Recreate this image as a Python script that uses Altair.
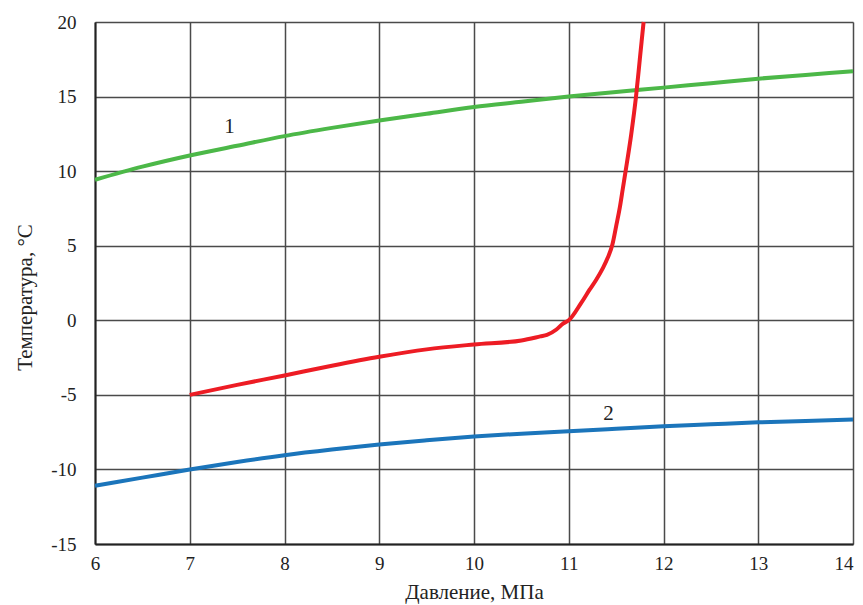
import altair as alt
import pandas as pd

# Curve 1 (green)
x1 = [6, 6.5, 7, 7.5, 8, 8.5, 9, 9.5, 10, 10.5, 11, 11.5, 12, 12.5, 13, 13.5, 14]
y1 = [9.42, 10.3, 11.05, 11.7, 12.35, 12.9, 13.4, 13.85, 14.3, 14.65, 15.0, 15.3, 15.6, 15.9, 16.2, 16.45, 16.7]

# Curve 2 (blue)
x2 = [6, 6.5, 7, 7.5, 8, 8.5, 9, 9.5, 10, 10.5, 11, 11.5, 12, 12.5, 13, 13.5, 14]
y2 = [-11.1, -10.55, -10.0, -9.5, -9.05, -8.67, -8.33, -8.05, -7.8, -7.6, -7.44, -7.27, -7.1, -6.97, -6.84, -6.75, -6.66]

# Red curve
x3 = [7, 7.5, 8, 8.5, 9, 9.5, 10, 10.5, 10.7, 10.77, 10.87, 10.94, 11.0, 11.13, 11.22, 11.29, 11.36, 11.41, 11.46, 11.5, 11.54, 11.57, 11.6, 11.66, 11.71, 11.75, 11.79]
y3 = [-5.0, -4.33, -3.7, -3.05, -2.45, -1.95, -1.62, -1.35, -1.08, -0.98, -0.62, -0.22, 0.0, 1.15, 2.05, 2.72, 3.5, 4.17, 5.06, 6.3, 7.6, 8.8, 10.0, 12.5, 15.0, 17.5, 20.0]

label_text = ["1", "2"]
label_x = [7.42, 11.42]
label_y = [12.97, -6.26]

rows = []
for s, xs, ys in (("1", x1, y1), ("2", x2, y2), ("3", x3, y3)):
    for i, (a, b) in enumerate(zip(xs, ys)):
        rows.append({"series": s, "p": a, "t": b, "order": i})
df = pd.DataFrame(rows)
lab = pd.DataFrame({"text": label_text, "p": label_x, "t": label_y})

FONT = "Liberation Serif, Times New Roman, serif"
LBL = "datum.value < 0 ? '-' + abs(datum.value) : '' + datum.value"

xscale = alt.Scale(domain=[6, 14], nice=False)
yscale = alt.Scale(domain=[-15, 20], nice=False)

xaxis = alt.Axis(values=list(range(6, 15)), title="Давление, МПа", grid=True,
                 gridColor="#4a4a4a", gridWidth=1.5, domainColor="#222", domainWidth=2,
                 ticks=False, labelPadding=10, labelFontSize=19, labelFont=FONT,
                 labelExpr=LBL,
                 labelAlign={"condition": {"test": "datum.value == 14", "value": "right"}, "value": "center"},
                 labelColor="#222", titleFont=FONT, titleFontSize=21, titleFontWeight="normal",
                 titleColor="#222", titleY=54, titleBaseline="alphabetic", labelFlush=False)
yaxis = alt.Axis(values=list(range(-15, 21, 5)), title="Температура, °С", grid=True,
                 gridColor="#4a4a4a", gridWidth=1.5, domainColor="#222", domainWidth=2,
                 ticks=False, labelPadding=19, labelFontSize=19, labelFont=FONT,
                 labelExpr=LBL,
                 labelColor="#222", titleFont=FONT, titleFontSize=21, titleFontWeight="normal",
                 titleColor="#222", titleX=-64, titleY=275, titleBaseline="alphabetic",
                 titleAngle=270, labelFlush=False)

lines = alt.Chart(df).mark_line(strokeWidth=4, interpolate="monotone").encode(
    x=alt.X("p:Q", scale=xscale, axis=xaxis),
    y=alt.Y("t:Q", scale=yscale, axis=yaxis),
    color=alt.Color("series:N", scale=alt.Scale(domain=["1", "2", "3"],
                    range=["#4cb848", "#1b75bb", "#ed1c24"]), legend=None),
    order="order:Q",
    detail="series:N",
)

labels = alt.Chart(lab).mark_text(font=FONT, fontSize=21, color="#222").encode(
    x=alt.X("p:Q", scale=xscale),
    y=alt.Y("t:Q", scale=yscale),
    text="text:N",
)

chart = alt.layer(lines, labels).properties(
    width=758, height=522,
    autosize=alt.AutoSizeParams(type="none"),
    padding={"left": 87, "top": 14, "right": 2, "bottom": 60},
).configure_view(stroke="#222", strokeWidth=2).configure(background="white")

chart.save("out.html", embed_options={"renderer": "svg", "actions": False})
